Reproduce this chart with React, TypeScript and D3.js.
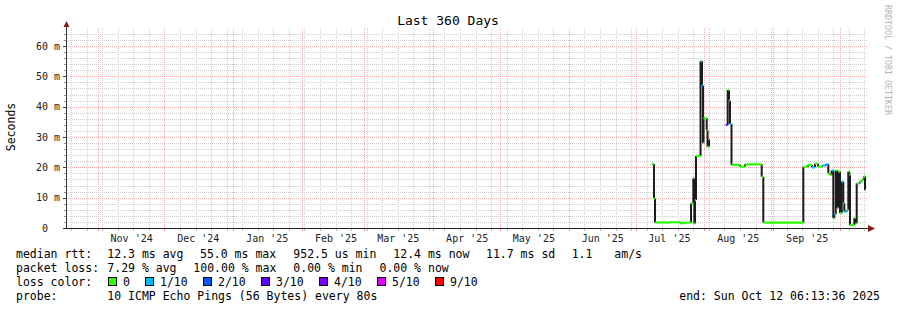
import React from "react";
import * as d3 from "d3";

const TITLE = "Last 360 Days";
const Y_TITLE = "Seconds";
const WATERMARK = "RRDTOOL / TOBI OETIKER";
const RANGE_START = "2024-10-17T16:30:00Z";
const RANGE_END = "2025-10-12T16:30:00Z";
const Y_MAX_MS = 65.94;
const Y_TICKS = [0, 10, 20, 30, 40, 50, 60];
const Y_TICK_LABELS = ["0", "10 m", "20 m", "30 m", "40 m", "50 m", "60 m"];
const MONTH_LABELS = ["Nov '24", "Dec '24", "Jan '25", "Feb '25", "Mar '25", "Apr '25", "May '25", "Jun '25", "Jul '25", "Aug '25", "Sep '25"];
const MONTH_LABEL_DATES = ["2024-11-16", "2024-12-16", "2025-01-16", "2025-02-16", "2025-03-16", "2025-04-16", "2025-05-16", "2025-06-16", "2025-07-16", "2025-08-16", "2025-09-16"];

// median rtt samples (ms) with loss (tenths)
const sampleTimes = [
  "2025-07-08T04:00Z", "2025-07-09T01:40Z", "2025-07-09T12:30Z", "2025-07-16T06:30Z", "2025-07-20T18:30Z",
  "2025-07-23T11:20Z", "2025-07-25T17:20Z", "2025-07-26T18:00Z", "2025-07-27T05:00Z", "2025-07-27T12:30Z",
  "2025-07-27T23:20Z", "2025-07-30T00:00Z", "2025-07-30T16:00Z", "2025-07-31T03:00Z", "2025-07-31T08:00Z",
  "2025-08-01T18:40Z", "2025-08-02T03:30Z", "2025-08-02T19:40Z", "2025-08-03T06:30Z", "2025-08-10T08:00Z",
  "2025-08-11T05:30Z", "2025-08-11T19:40Z", "2025-08-12T06:30Z", "2025-08-12T22:30Z", "2025-08-16T18:30Z",
  "2025-08-19T00:30Z", "2025-08-26T12:45Z", "2025-08-27T06:00Z", "2025-09-14T06:00Z", "2025-09-16T09:00Z",
  "2025-09-18T04:00Z", "2025-09-19T12:30Z", "2025-09-20T21:00Z", "2025-09-22T16:00Z", "2025-09-24T11:20Z",
  "2025-09-25T12:00Z", "2025-09-26T06:30Z", "2025-09-27T00:45Z", "2025-09-27T18:00Z", "2025-09-28T04:50Z",
  "2025-09-28T20:00Z", "2025-09-29T10:00Z", "2025-09-30T00:00Z", "2025-09-30T18:30Z", "2025-10-01T12:45Z",
  "2025-10-02T06:00Z", "2025-10-02T16:50Z", "2025-10-03T18:40Z", "2025-10-04T12:00Z", "2025-10-04T22:50Z",
  "2025-10-05T06:30Z", "2025-10-07T04:50Z", "2025-10-07T20:00Z", "2025-10-08T06:40Z", "2025-10-09T00:00Z",
  "2025-10-09T18:30Z", "2025-10-10T12:45Z", "2025-10-11T06:00Z", "2025-10-11T13:40Z", "2025-10-12T00:30Z",
];
const medianMs: (number | null)[] = [
  21.1, 9.8, 1.8, 1.9, 1.6,
  1.8, 8.1, 16.4, 1.5, 9.2,
  23.7, 55.0, 47.0, 28.0, 36.2,
  32.3, 26.8, 29.0, null, 34.0,
  45.5, 42.0, 34.3, 20.8, 20.2,
  21.0, 16.9, 1.8, 20.2, 20.8,
  20.0, 21.2, 20.2, 20.6, 21.0,
  18.0, 17.5, 19.0, 3.2, 4.5,
  19.0, 6.6, 18.6, 4.9, 15.3,
  8.2, 5.4, 6.0, 18.6, 17.5,
  1.0, 3.3, 1.5, 14.7, 14.7,
  15.3, 15.8, 16.4, 17.0, 12.5,
];
const lossTenths = [
  0, 0, 0, 0, 0,
  0, 0, 0, 0, 0,
  0, 1, 1, 0, 0,
  0, 0, 9, 0, 3,
  0, 0, 1, 0, 0,
  0, 0, 0, 0, 0,
  1, 0, 0, 1, 1,
  0, 0, 1, 0, 1,
  0, 1, 0, 0, 1,
  0, 1, 0, 0, 0,
  0, 0, 0, 0, 1,
  0, 0, 0, 0, 0,
];
const SERIES_END = "2025-10-12T04:00Z";

const LOSS_KEYS = [0, 1, 2, 3, 4, 5, 9];
const LOSS_LABELS = ["0", "1/10", "2/10", "3/10", "4/10", "5/10", "9/10"];
const LOSS_COLORS = ["#26ff00", "#00b8ff", "#0059ff", "#5e00ff", "#7e00ff", "#dd00ff", "#ff0000"];

const RTT_LABEL = "median rtt:";
const RTT_ITEMS = ["12.3 ms avg", "55.0 ms max", "952.5 us min", "12.4 ms now", "11.7 ms sd", "1.1", "am/s"];
const LOSS_LABEL = "packet loss:";
const LOSS_ITEMS = ["7.29 % avg", "100.00 % max", "0.00 % min", "0.00 % now"];
const COLOR_LABEL = "loss color:";
const PROBE_LABEL = "probe:";
const PROBE_TEXT = "10 ICMP Echo Pings (56 Bytes) every 80s";
const END_TEXT = "end: Sun Oct 12 06:13:36 2025";

const W = 897;
const H = 310;
const PL = 66.5;
const PR = 866.5;
const PB = 228;
const PT = 28;
const MONO = "'DejaVu Sans Mono', monospace";

export default function App() {
  const x = d3.scaleUtc().domain([new Date(RANGE_START), new Date(RANGE_END)]).range([PL, PR]);
  const y = d3.scaleLinear().domain([0, Y_MAX_MS]).range([PB, PT]);
  const start = new Date(RANGE_START);
  const end = new Date(RANGE_END);
  const weeks = d3.utcSunday.range(start, end);
  const months = d3.utcMonth.range(start, end);
  const minorY = d3.range(2, Y_MAX_MS, 2).filter((v) => v % 10 !== 0);
  const colX = (d: Date) => Math.floor(x(d));
  const rowY = (v: number) => Math.round(y(v));
  const px = (d: Date) => colX(d) + 0.5;
  const py = (v: number) => rowY(v) + 0.5;

  const times = sampleTimes.map((s) => new Date(s));
  const ends = [...times.slice(1), new Date(SERIES_END)];
  const colorOf = (l: number) => LOSS_COLORS[Math.max(0, LOSS_KEYS.indexOf(l))];

  const horiz: { x1: number; x2: number; yv: number; c: string }[] = [];
  const vert: { xv: number; y1: number; y2: number }[] = [];
  medianMs.forEach((v, i) => {
    if (v == null) return;
    horiz.push({ x1: x(times[i]), x2: Math.max(x(ends[i]), x(times[i]) + 1), yv: y(v), c: colorOf(lossTenths[i]) });
    const nv = medianMs[i + 1];
    if (nv != null && i + 1 < medianMs.length) {
      vert.push({ xv: x(ends[i]), y1: y(v), y2: y(nv) });
    }
  });

  const gridMinor = "#d0d0d0";
  const gridMajor = "#f4aaaa";
  const GX1 = 67;
  const GX2 = 867;

  return (
    <svg width={W} height={H} style={{ display: "block", position: "absolute", left: 0, top: 0, background: "#fff" }}>
      <defs>
        <pattern id="hMinor" x={0} y={0} width={2} height={1} patternUnits="userSpaceOnUse">
          <rect x={0} y={0} width={1} height={1} fill={gridMinor} />
        </pattern>
        <pattern id="vMinor" x={0} y={0} width={1} height={2} patternUnits="userSpaceOnUse">
          <rect x={0} y={0} width={1} height={1} fill={gridMinor} />
        </pattern>
        <pattern id="hMajor" x={0} y={0} width={2} height={1} patternUnits="userSpaceOnUse">
          <rect x={0} y={0} width={1} height={1} fill={gridMajor} />
        </pattern>
        <pattern id="vMajor" x={0} y={0} width={1} height={2} patternUnits="userSpaceOnUse">
          <rect x={0} y={0} width={1} height={1} fill={gridMajor} />
        </pattern>
      </defs>
      <rect x={0} y={0} width={W} height={H} fill="#fff" />
      {/* minor grid */}
      <g shapeRendering="crispEdges">
        {weeks.map((d, i) => (
          <rect key={"wv" + i} x={colX(d)} y={PT} width={1} height={PB - PT} fill="url(#vMinor)" />
        ))}
        {minorY.map((v, i) => (
          <rect key={"hy" + i} x={GX1} y={rowY(v)} width={GX2 - GX1} height={1} fill="url(#hMinor)" />
        ))}
        {/* major grid */}
        {months.map((d, i) => (
          <rect key={"mv" + i} x={colX(d)} y={PT} width={1} height={PB - PT} fill="url(#vMajor)" />
        ))}
        {Y_TICKS.filter((v) => v > 0).map((v, i) => (
          <rect key={"my" + i} x={GX1} y={rowY(v)} width={GX2 - GX1} height={1} fill="url(#hMajor)" />
        ))}
      </g>
      {/* ticks */}
      <g strokeWidth={1} shapeRendering="crispEdges">
        {weeks.map((d, i) => (
          <line key={"wt" + i} x1={px(d)} x2={px(d)} y1={PB + 1} y2={PB + 3} stroke="#bbb" />
        ))}
        {months.map((d, i) => (
          <line key={"mt" + i} x1={px(d)} x2={px(d)} y1={PB + 1} y2={PB + 3} stroke="#e88" />
        ))}
        {minorY.map((v, i) => (
          <line key={"yt" + i} x1={64} x2={66} y1={py(v)} y2={py(v)} stroke="#999" />
        ))}
        {Y_TICKS.map((v, i) => (
          <line key={"Yt" + i} x1={63} x2={66} y1={py(v)} y2={py(v)} stroke="#444" />
        ))}
      </g>
      {/* data */}
      <g strokeLinecap="butt">
        {vert.map((s, i) => (
          <line key={"v" + i} x1={s.xv} x2={s.xv} y1={s.y1} y2={s.y2} stroke="#1c1c1c" strokeWidth={2} />
        ))}
        {horiz.map((s, i) => (
          <line key={"h" + i} x1={s.x1} x2={s.x2} y1={s.yv} y2={s.yv} stroke={s.c} strokeWidth={2.2} />
        ))}
      </g>
      {/* axes */}
      <g shapeRendering="crispEdges">
        <line x1={PL} x2={PL} y1={24} y2={PB + 1} stroke="#333" strokeWidth={1} />
        <line x1={63} x2={869} y1={PB + 0.5} y2={PB + 0.5} stroke="#222" strokeWidth={1} />
      </g>
      <path d={`M${PL},21 L${PL - 3},27 L${PL + 3},27 Z`} fill="#8b1a1a" />
      <path d={`M875,${PB + 0.5} L868,${PB - 3} L868,${PB + 4} Z`} fill="#8b1a1a" />
      {/* title */}
      <text x={448} y={24.5} textAnchor="middle" fontFamily={MONO} fontSize={13} fill="#000">
        {TITLE}
      </text>
      {/* axis labels */}
      <g fontFamily={MONO} fontSize={10} fill="#222">
        {Y_TICKS.map((v, i) => (
          <text key={"yl" + i} x={v === 0 ? 48 : 60} y={y(v) + 3.5} textAnchor="end">
            {Y_TICK_LABELS[i]}
          </text>
        ))}
        {MONTH_LABELS.map((l, i) => (
          <text key={"xl" + i} x={x(new Date(MONTH_LABEL_DATES[i] + "T00:00:00Z"))} y={241.5} textAnchor="middle">
            {l}
          </text>
        ))}
      </g>
      <text transform="translate(15,127) rotate(-90)" textAnchor="middle" fontFamily={MONO} fontSize={11.5} fill="#000">
        {Y_TITLE}
      </text>
      <text transform="translate(885,5) rotate(90)" fontFamily={MONO} fontSize={8.3} fill="#b4b4b4">
        {WATERMARK}
      </text>
      {/* legend */}
      <g fontFamily={MONO} fontSize={11.5} fill="#000">
        <text x={16} y={258}>{RTT_LABEL}</text>
        {RTT_ITEMS.map((t, i) => (
          <text key={"r" + i} x={[107.3, 200, 293.3, 393.3, 486, 571.7, 614.3][i]} y={258}>{t}</text>
        ))}
        <text x={16} y={272}>{LOSS_LABEL}</text>
        {LOSS_ITEMS.map((t, i) => (
          <text key={"l" + i} x={[107.3, 193.3, 293.3, 379.5][i]} y={272}>{t}</text>
        ))}
        <text x={16} y={286}>{COLOR_LABEL}</text>
        {LOSS_LABELS.map((t, i) => {
          const bx = [108.5, 145.5, 203.5, 261.5, 319.5, 377.5, 435.5][i];
          return (
            <g key={"c" + i}>
              <rect x={bx} y={277.5} width={8} height={8} fill={LOSS_COLORS[i]} stroke="#000" strokeWidth={1} shapeRendering="crispEdges" />
              <text x={bx + 14.5} y={286}>{t}</text>
            </g>
          );
        })}
        <text x={16} y={300}>{PROBE_LABEL}</text>
        <text x={107.3} y={300}>{PROBE_TEXT}</text>
        <text x={880} y={300} textAnchor="end">{END_TEXT}</text>
      </g>
    </svg>
  );
}
